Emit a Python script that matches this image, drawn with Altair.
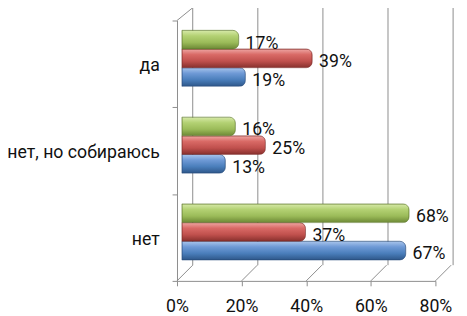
import altair as alt
import pandas as pd

categories = ["да", "нет, но собираюсь", "нет"]
series = ["Ряд 1", "Ряд 2", "Ряд 3"]          # blue, red, green
blue = [0.19, 0.13, 0.67]
red = [0.39, 0.25, 0.37]
green = [0.17, 0.16, 0.68]
ticks = [0, 0.2, 0.4, 0.6, 0.8]

FONT = "Roboto"
GRAY = "#8c8c8c"
TXT = "#111111"

rows = []
for s, vals in zip(series, [blue, red, green]):
    for c, v in zip(categories, vals):
        rows.append({"cat": c, "series": s, "value": v})
df = pd.DataFrame(rows)
tick_df = pd.DataFrame({"t": ticks})

offset_order = ["Ряд 3", "Ряд 2", "Ряд 1"]

y_enc = alt.Y(
    "cat:N",
    sort=categories,
    scale=alt.Scale(domain=categories, range=[13, 278], paddingInner=0, paddingOuter=0),
    axis=alt.Axis(title=None, labelFont=FONT, labelFontSize=18, labelColor=TXT,
                  labelPadding=13, tickSize=5, tickColor=GRAY, domainColor=GRAY,
                  tickBand="extent", labelLimit=300, labelOffset=2, grid=False),
)
yoff_enc = alt.YOffset(
    "series:N",
    sort=offset_order,
    scale=alt.Scale(domain=offset_order, range=[10, 67], paddingInner=0, paddingOuter=0),
)
bar_x = alt.X("value:Q", scale=alt.Scale(domain=[0, 0.8], range=[5, 277]), axis=None)


def grad(c0, c1, c2, c3):
    return alt.Gradient(
        gradient="linear", x1=0, x2=0, y1=0, y2=1,
        stops=[alt.GradientStop(color=c0, offset=0),
               alt.GradientStop(color=c1, offset=0.3),
               alt.GradientStop(color=c2, offset=0.65),
               alt.GradientStop(color=c3, offset=1)],
    )


styles = {
    "Ряд 1": (grad("#a9c5ec", "#6f9ad6", "#4a7ebb", "#2e578a"), "#2a4f7e"),
    "Ряд 2": (grad("#eea7a4", "#d96a66", "#c0504d", "#87302d"), "#7e2b28"),
    "Ряд 3": (grad("#d7eaa9", "#b3d173", "#9bbb59", "#6c8835"), "#627c30"),
}

bar_layers = []
for s in series:
    fill, edge = styles[s]
    bar_layers.append(
        alt.Chart(df).transform_filter(alt.datum.series == s)
        .mark_bar(fill=fill, stroke=edge, strokeWidth=0.6, cornerRadiusEnd=6)
        .encode(x=bar_x, y=y_enc, yOffset=yoff_enc)
    )

text_layer = alt.Chart(df).mark_text(
    align="left", baseline="middle", dx=7, dy=4, font=FONT, fontSize=18, color=TXT
).encode(x=bar_x, y=y_enc, yOffset=yoff_enc, text=alt.Text("value:Q", format=".0%"))

bars = alt.layer(*bar_layers, text_layer)

grid = alt.Chart(tick_df).mark_rule(color=GRAY, strokeWidth=1).encode(
    x=alt.X("t:Q", scale=alt.Scale(domain=[0, 0.8], range=[16, 281]), axis=None),
    y=alt.value(0), y2=alt.value(262),
)

floor = alt.Chart(tick_df).transform_calculate(t2="datum.t + 0.8*16/263").mark_rule(
    color=GRAY, strokeWidth=1
).encode(
    x=alt.X("t:Q", scale=alt.Scale(domain=[0, 0.8], range=[0, 263]), axis=None),
    x2="t2:Q",
    y=alt.value(278), y2=alt.value(262),
)

top_diag = alt.Chart(tick_df.head(1)).mark_rule(color=GRAY, strokeWidth=1).encode(
    x=alt.value(0), x2=alt.value(16), y=alt.value(13), y2=alt.value(0)
)

axes = alt.Chart(df).mark_point(opacity=0).encode(
    x=alt.X("value:Q", scale=alt.Scale(domain=[0, 0.8], range=[0, 263]),
            axis=alt.Axis(title=None, values=ticks, format=".0%", labelFont=FONT,
                          labelFontSize=18, labelColor=TXT, labelPadding=12,
                          tickSize=5, tickColor=GRAY, domainColor=GRAY, grid=False,
                          labelFlush=False)),
    y=y_enc,
)

chart = alt.layer(grid, floor, top_diag, axes, bars).resolve_scale(x="independent").properties(
    width=281, height=278,
    padding={"left": 172, "top": -3, "right": 6, "bottom": 33},
    autosize="none",
    background="white",
).configure_view(stroke=None)

chart.save("out.html", embed_options={"renderer": "svg", "actions": False})
